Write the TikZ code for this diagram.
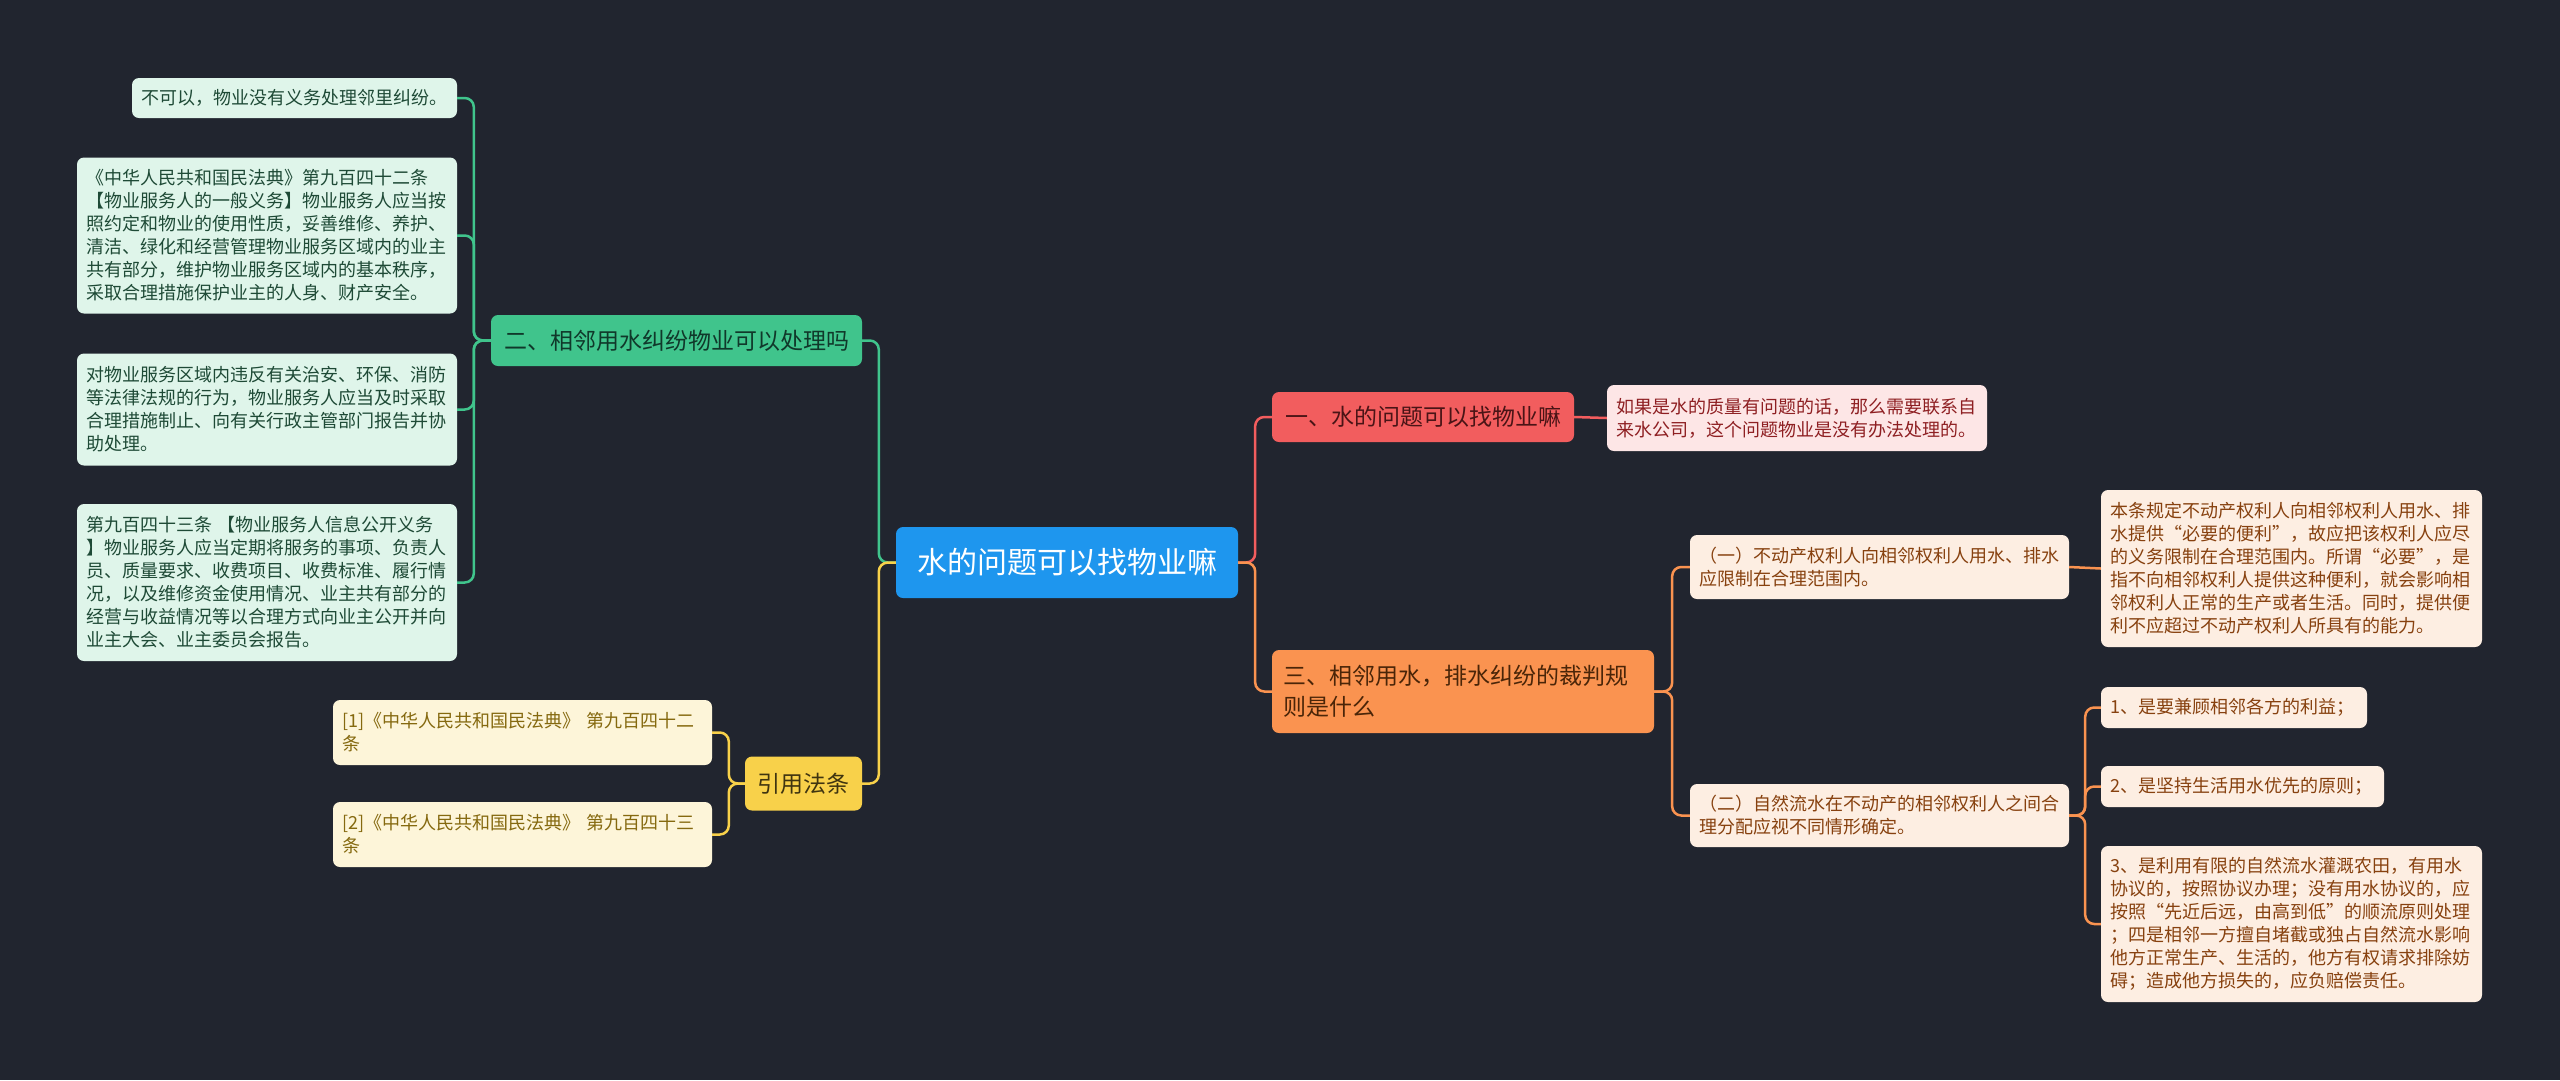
\documentclass[tikz,border=0pt]{standalone}
\usepackage{fontspec}
\setmainfont{Noto Sans CJK SC}
\definecolor{bg}{HTML}{21252F}
\definecolor{rootc}{HTML}{1E96EE}
\definecolor{redc}{HTML}{F25D5E}
\definecolor{redl}{HTML}{FDE6E6}
\definecolor{redt}{HTML}{8E1F22}
\definecolor{redbt}{HTML}{4A1416}
\definecolor{orac}{HTML}{FA9350}
\definecolor{oral}{HTML}{FDEEE2}
\definecolor{orat}{HTML}{87410F}
\definecolor{orabt}{HTML}{4A2508}
\definecolor{grec}{HTML}{40C48C}
\definecolor{grel}{HTML}{DFF5EA}
\definecolor{gret}{HTML}{1E4A36}
\definecolor{grebt}{HTML}{10382A}
\definecolor{yelc}{HTML}{F8D14A}
\definecolor{yell}{HTML}{FDF5D9}
\definecolor{yelt}{HTML}{85690F}
\definecolor{yelbt}{HTML}{3F3410}
\tikzset{
  box/.style={rounded corners=7pt, inner ysep=0pt, align=left},
  leaftxt/.style={font=\fontsize{18}{23}\selectfont},
  brtxt/.style={font=\fontsize{23}{31}\selectfont},
  rootbox/.style={box, fill=rootc, text=white, font=\fontsize{30}{36}\selectfont, inner xsep=16pt},
  redbr/.style={box, brtxt, fill=redc, text=redbt, inner xsep=11pt},
  redlf/.style={box, leaftxt, fill=redl, text=redt, inner xsep=9pt},
  orabr/.style={box, brtxt, fill=orac, text=orabt, inner xsep=11pt},
  oralf/.style={box, leaftxt, fill=oral, text=orat, inner xsep=9pt},
  grebr/.style={box, brtxt, fill=grec, text=grebt, inner xsep=11pt},
  grelf/.style={box, leaftxt, fill=grel, text=gret, inner xsep=9pt},
  yelbr/.style={box, brtxt, fill=yelc, text=yelbt, inner xsep=11pt},
  yellf/.style={box, leaftxt, fill=yell, text=yelt, inner xsep=9pt},
  conn/.style={line width=2.5pt, rounded corners=9pt},
  redln/.style={conn, draw=redc},
  oraln/.style={conn, draw=orac},
  greln/.style={conn, draw=grec},
  yelln/.style={conn, draw=yelc},
}
\begin{document}
\begin{tikzpicture}[x=1pt,y=-1pt]
\fill[bg] (0,0) rectangle (2560,1080);
\useasboundingbox (0,0) rectangle (2560,1080);

% root
\node[rootbox, minimum width=342pt, minimum height=71pt, align=center] (root) at (1067,562.5) {水的问题可以找物业嘛};

% red branch
\node[redbr, minimum width=302pt, minimum height=50pt, align=center] (rb) at (1423,417) {一、水的问题可以找物业嘛};
\node[redlf, text width=362pt, minimum height=66pt] (rl) at (1797,418) {如果是水的质量有问题的话，那么需要联系自\\来水公司，这个问题物业是没有办法处理的。};

% orange branch
\node[orabr, text width=360pt, minimum height=83pt] (ob) at (1463,691.5) {三、相邻用水，排水纠纷的裁判规\\则是什么};
\node[oralf, text width=361pt, minimum height=64pt] (oc1) at (1879.5,567) {（一）不动产权利人向相邻权利人用水、排水\\应限制在合理范围内。};
\node[oralf, text width=363pt, minimum height=157pt] (ol1) at (2291.5,568.5) {本条规定不动产权利人向相邻权利人用水、排\\水提供“必要的便利”，故应把该权利人应尽\\的义务限制在合理范围内。所谓“必要”，是\\指不向相邻权利人提供这种便利，就会影响相\\邻权利人正常的生产或者生活。同时，提供便\\利不应超过不动产权利人所具有的能力。};
\node[oralf, text width=361pt, minimum height=63pt] (oc2) at (1879.5,815.5) {（二）自然流水在不动产的相邻权利人之间合\\理分配应视不同情形确定。};
\node[oralf, text width=248pt, minimum height=41pt] (ol2) at (2234,707.5) {1、是要兼顾相邻各方的利益；};
\node[oralf, text width=265pt, minimum height=41pt] (ol3) at (2242.5,786.5) {2、是坚持生活用水优先的原则；};
\node[oralf, text width=363pt, minimum height=156pt] (ol4) at (2291.5,924) {3、是利用有限的自然流水灌溉农田，有用水\\协议的，按照协议办理；没有用水协议的，应\\按照“先近后远，由高到低”的顺流原则处理\\；四是相邻一方擅自堵截或独占自然流水影响\\他方正常生产、生活的，他方有权请求排除妨\\碍；造成他方损失的，应负赔偿责任。};

% green branch
\node[grebr, minimum width=371pt, minimum height=51pt, align=center] (gb) at (676.5,340.5) {二、相邻用水纠纷物业可以处理吗};
\node[grelf, text width=307pt, minimum height=40pt] (gl1) at (294.5,98) {不可以，物业没有义务处理邻里纠纷。};
\node[grelf, text width=362pt, minimum height=156pt] (gl2) at (267,235.5) {《中华人民共和国民法典》第九百四十二条\\【物业服务人的一般义务】物业服务人应当按\\照约定和物业的使用性质，妥善维修、养护、\\清洁、绿化和经营管理物业服务区域内的业主\\共有部分，维护物业服务区域内的基本秩序，\\采取合理措施保护业主的人身、财产安全。};
\node[grelf, text width=362pt, minimum height=112pt] (gl3) at (267,409.5) {对物业服务区域内违反有关治安、环保、消防\\等法律法规的行为，物业服务人应当及时采取\\合理措施制止、向有关行政主管部门报告并协\\助处理。};
\node[grelf, text width=362pt, minimum height=157pt] (gl4) at (267,582.5) {第九百四十三条 【物业服务人信息公开义务\\】物业服务人应当定期将服务的事项、负责人\\员、质量要求、收费项目、收费标准、履行情\\况，以及维修资金使用情况、业主共有部分的\\经营与收益情况等以合理方式向业主公开并向\\业主大会、业主委员会报告。};

% yellow branch
\node[yelbr, minimum width=117pt, minimum height=54pt, align=center] (yb) at (803.5,783.5) {引用法条};
\node[yellf, text width=361pt, minimum height=65pt] (yl1) at (522.5,732.5) {[1]《中华人民共和国民法典》 第九百四十二\\条};
\node[yellf, text width=361pt, minimum height=65pt] (yl2) at (522.5,834.5) {[2]《中华人民共和国民法典》 第九百四十三\\条};

% connectors right
\draw[redln] (root.east) -- ++(17,0) |- (rb.west);
\draw[oraln] (root.east) -- ++(17,0) |- (ob.west);
\draw[redln] (rb.east) -- (rl.west);
\draw[oraln] (ob.east) -- ++(18,0) |- (oc1.west);
\draw[oraln] (ob.east) -- ++(18,0) |- (oc2.west);
\draw[oraln] (oc1.east) -- (ol1.west);
\draw[oraln] (oc2.east) -- ++(16,0) |- (ol2.west);
\draw[oraln] (oc2.east) -- ++(16,0) |- (ol3.west);
\draw[oraln] (oc2.east) -- ++(16,0) |- (ol4.west);

% connectors left
\draw[greln] (root.west) -- ++(-17,0) |- (gb.east);
\draw[yelln] (root.west) -- ++(-17,0) |- (yb.east);
\draw[greln] (gb.west) -- ++(-17,0) |- (gl1.east);
\draw[greln] (gb.west) -- ++(-17,0) |- (gl2.east);
\draw[greln] (gb.west) -- ++(-17,0) |- (gl3.east);
\draw[greln] (gb.west) -- ++(-17,0) |- (gl4.east);
\draw[yelln] (yb.west) -- ++(-16,0) |- (yl1.east);
\draw[yelln] (yb.west) -- ++(-16,0) |- (yl2.east);
\end{tikzpicture}
\end{document}
